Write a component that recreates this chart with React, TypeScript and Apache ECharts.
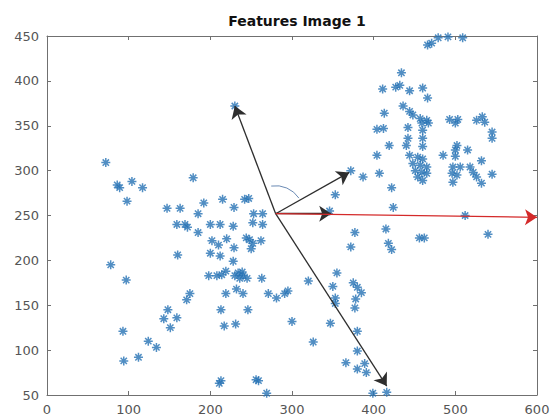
import React, { useEffect, useRef } from "react";
import * as echarts from "echarts";

const titleText = "Features Image 1";
const xMin = 0, xMax = 600, xStep = 100;
const yMin = 50, yMax = 450, yStep = 50;

// lower-left / central cluster
const clusterLeft: number[][] = [
  [72, 309], [86, 284], [89, 281], [104, 288], [117, 281], [98, 266], [78, 195], [97, 178],
  [93, 121], [94, 88], [112, 92], [124, 110], [134, 103], [143, 135], [148, 145], [151, 125],
  [159, 136], [171, 156], [175, 163], [160, 206], [147, 258], [163, 258], [159, 240], [169, 240],
  [172, 237], [179, 292], [185, 252], [185, 231], [192, 264], [200, 240], [212, 240], [228, 238],
  [202, 222], [210, 217], [220, 224], [229, 214], [200, 208], [212, 205], [215, 268], [229, 259],
  [242, 268], [247, 269], [228, 199], [198, 183], [208, 183], [214, 184], [219, 188], [230, 183],
  [234, 186], [239, 187], [236, 180], [245, 180], [240, 183], [263, 180], [244, 225], [248, 223],
  [252, 219], [250, 213], [262, 222], [253, 252], [264, 252], [252, 242], [264, 240], [219, 163],
  [232, 168], [240, 163], [213, 145], [246, 145], [217, 127], [231, 129], [211, 63], [213, 66],
  [256, 67], [259, 66], [269, 52], [230, 372],
];

// lower-right cluster
const clusterLowerRight: number[][] = [
  [271, 163], [281, 158], [291, 163], [295, 166], [300, 132], [320, 177], [326, 109], [347, 130],
  [350, 171], [355, 186], [353, 158], [353, 152], [375, 175], [380, 170], [385, 164], [378, 157],
  [377, 147], [380, 121], [380, 99], [366, 86], [380, 79], [389, 85], [391, 75], [399, 52],
  [416, 53], [377, 231], [372, 215], [415, 235], [418, 219], [422, 212], [456, 225], [462, 225],
  [540, 229], [512, 250], [424, 259], [346, 255],
];

// upper-right cluster
const clusterUpperRight: number[][] = [
  [353, 273], [372, 300], [422, 281], [387, 293], [407, 297], [404, 317], [419, 328], [404, 346],
  [412, 347], [413, 364], [411, 391], [427, 393], [432, 395], [444, 389], [460, 392], [466, 381],
  [434, 409], [466, 440], [471, 442], [479, 448], [491, 449], [509, 448], [436, 372], [444, 366],
  [448, 362], [457, 358], [465, 356], [459, 353], [467, 353], [442, 348], [460, 345], [442, 336],
  [460, 336], [440, 328], [460, 327], [444, 317], [454, 315], [460, 313], [448, 308], [457, 306],
  [465, 304], [451, 300], [459, 298], [454, 293], [460, 289], [465, 297], [493, 357], [503, 357],
  [500, 353], [526, 356], [533, 360], [536, 354], [545, 343], [545, 336], [502, 328], [500, 323],
  [515, 323], [485, 317], [500, 316], [532, 311], [497, 304], [506, 304], [518, 304], [496, 297],
  [502, 295], [522, 298], [526, 293], [545, 296], [497, 287], [532, 286],
];

const arrowOrigin = [280, 252];
const blackArrowTips: number[][] = [[230, 372], [370, 298], [348, 252], [416, 60]];
const redArrowTip = [600, 248];

const asterisk = "path://M0,5L10,5M5,0L5,10M1.5,1.5L8.5,8.5M8.5,1.5L1.5,8.5";
const font = "DejaVu Sans, Verdana, sans-serif";

export default function App() {
  const ref = useRef<HTMLDivElement>(null);
  useEffect(() => {
    document.body.style.margin = "0";
    if (!ref.current) return;
    const chart = echarts.init(ref.current, undefined, { renderer: "svg" });
    const axisColor = "#707070";
    const labelStyle = { color: "#555555", fontSize: 13, fontFamily: font };
    const mkX = (pos: "bottom" | "top", labels: boolean) => ({
      type: "value" as const, position: pos, min: xMin, max: xMax, interval: xStep,
      axisLine: { show: true, onZero: false, lineStyle: { color: axisColor, width: 1 } },
      axisTick: { show: true, inside: true, length: 4, lineStyle: { color: axisColor } },
      axisLabel: { show: labels, margin: 8, ...labelStyle },
      splitLine: { show: false },
    });
    const mkY = (pos: "left" | "right", labels: boolean) => ({
      type: "value" as const, position: pos, min: yMin, max: yMax, interval: yStep,
      axisLine: { show: true, onZero: false, lineStyle: { color: axisColor, width: 1 } },
      axisTick: { show: true, inside: true, length: 4, lineStyle: { color: axisColor } },
      axisLabel: { show: labels, margin: 8, ...labelStyle },
      splitLine: { show: false },
    });
    const scatterStyle = {
      type: "scatter" as const,
      symbol: asterisk,
      symbolSize: 9,
      itemStyle: { color: "rgba(0,0,0,0)", borderColor: "#2572b4", borderWidth: 1.5 },
      silent: true,
    };
    const arrowData: any[] = blackArrowTips.map((t) => [
      { coord: arrowOrigin, lineStyle: { color: "#2e2e2e", width: 1.3, type: "solid" } },
      { coord: t },
    ]);
    arrowData.push([
      { coord: arrowOrigin, lineStyle: { color: "#d42a2a", width: 1.3, type: "solid" } },
      { coord: redArrowTip },
    ]);
    chart.setOption({
      animation: false,
      title: {
        text: titleText, left: 292, top: 9, textAlign: "center",
        textStyle: { fontSize: 14, fontWeight: "bold", color: "#111", fontFamily: font },
      },
      grid: { left: 47, right: 16, top: 36, bottom: 21, containLabel: false },
      xAxis: [mkX("bottom", true), mkX("top", false)],
      yAxis: [mkY("left", true), mkY("right", false)],
      series: [
        { ...scatterStyle, data: clusterLeft },
        { ...scatterStyle, data: clusterLowerRight },
        {
          ...scatterStyle, data: clusterUpperRight,
          markLine: {
            silent: true, symbol: ["none", "arrow"], symbolSize: 12,
            label: { show: false }, emphasis: { disabled: true },
            data: arrowData,
          },
        },
      ],
    });
    const c = chart.convertToPixel({ seriesIndex: 0 }, arrowOrigin) as number[];
    chart.setOption({
      graphic: [
        {
          type: "arc",
          shape: { cx: c[0], cy: c[1], r: 28, startAngle: -1.73, endAngle: -0.59, clockwise: true },
          style: { stroke: "#6a8ab4", lineWidth: 1, fill: "none" },
          silent: true,
        },
      ],
    });
    return () => chart.dispose();
  }, []);
  return <div ref={ref} style={{ width: 553, height: 416 }} />;
}
